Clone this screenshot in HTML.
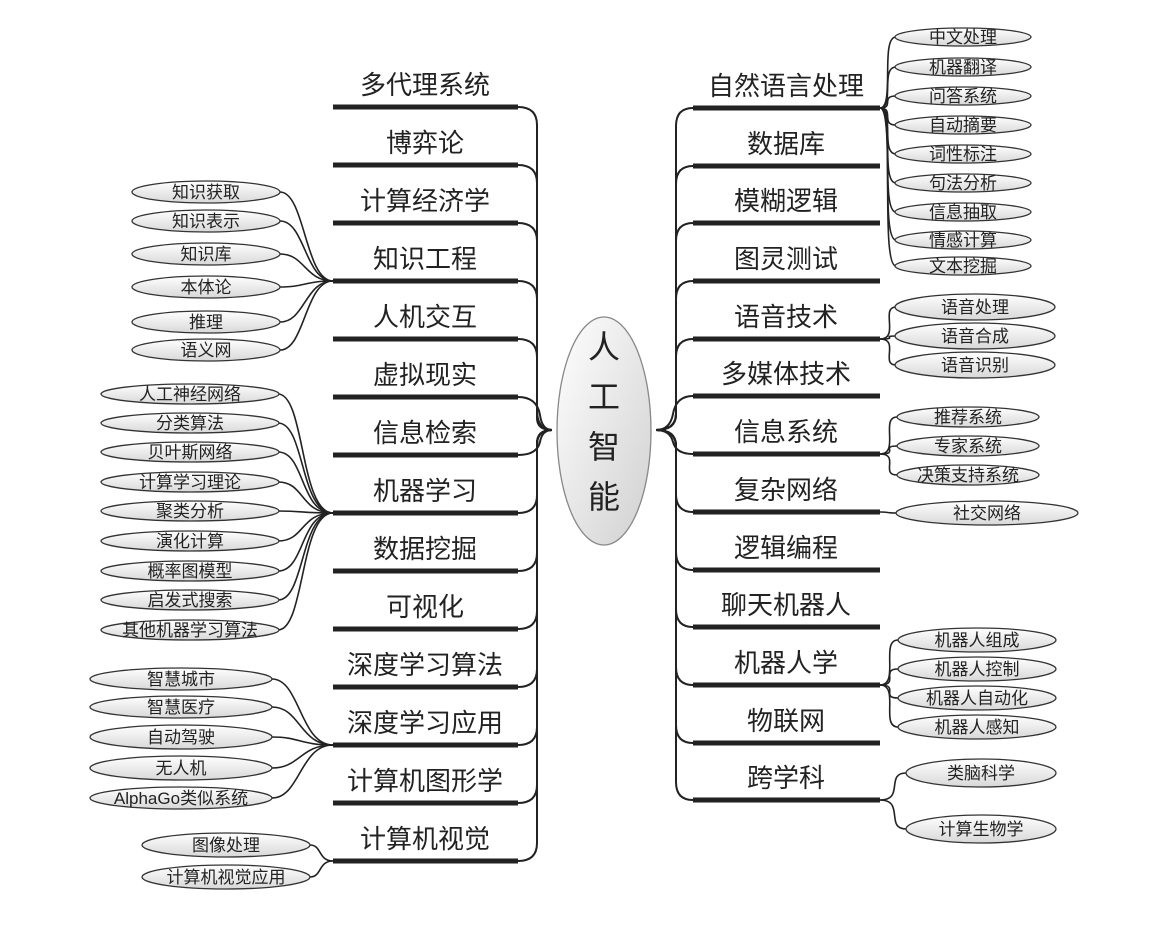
<!DOCTYPE html>
<html><head><meta charset="utf-8"><style>
html,body{margin:0;padding:0;background:#fff;}
svg{display:block;}
.m{font-family:"Liberation Sans","Noto Sans CJK SC",sans-serif;font-size:26px;fill:#222;text-anchor:middle;}
.s{font-family:"Liberation Sans","Noto Sans CJK SC",sans-serif;font-size:17px;fill:#222;text-anchor:middle;}
.b{stroke:#222;stroke-width:5;}
.c{fill:none;stroke:#222;stroke-width:1.6;}
.o{fill:url(#g);stroke:#333;stroke-width:1.3;}
</style></head><body>
<svg width="1174" height="932" viewBox="0 0 1174 932" xmlns="http://www.w3.org/2000/svg">
<defs><linearGradient id="g" x1="0" y1="0" x2="0" y2="1"><stop offset="0" stop-color="#fff"/><stop offset="1" stop-color="#d8d8d8"/></linearGradient>
<linearGradient id="g2" x1="0" y1="0" x2="1" y2="1"><stop offset="0" stop-color="#fff"/><stop offset="1" stop-color="#d0d0d0"/></linearGradient></defs>

<g class="c" style="stroke-width:2">
<path d="M518,107 Q537,107 537,125 L537,410 Q537,430 552,430"/>
<path d="M518,165 Q537,165 537,183 L537,412 Q537,430 552,430"/>
<path d="M518,223 Q537,223 537,241 L537,414 Q537,430 552,430"/>
<path d="M518,281 Q537,281 537,299 L537,416 Q537,430 552,430"/>
<path d="M518,339 Q537,339 537,357 L537,418 Q537,430 552,430"/>
<path d="M518,397 Q537,397 540,415 Q542,430 552,430"/>
<path d="M518,455 Q537,455 540,442 Q542,430 552,430"/>
<path d="M518,513 Q537,513 537,495 L537,444 Q537,430 552,430"/>
<path d="M518,571 Q537,571 537,553 L537,444 Q537,430 552,430"/>
<path d="M518,629 Q537,629 537,611 L537,444 Q537,430 552,430"/>
<path d="M518,687 Q537,687 537,669 L537,444 Q537,430 552,430"/>
<path d="M518,745 Q537,745 537,727 L537,444 Q537,430 552,430"/>
<path d="M518,803 Q537,803 537,785 L537,444 Q537,430 552,430"/>
<path d="M518,861 Q537,861 537,843 L537,444 Q537,430 552,430"/>
</g>
<g class="c" style="stroke-width:2">
<path d="M693,108 Q676,108 676,126 L676,414 Q676,430 656,430"/>
<path d="M693,166 Q676,166 676,184 L676,414 Q676,430 656,430"/>
<path d="M693,223 Q676,223 676,241 L676,414 Q676,430 656,430"/>
<path d="M693,281 Q676,281 676,299 L676,414 Q676,430 656,430"/>
<path d="M693,339 Q676,339 676,357 L676,414 Q676,430 656,430"/>
<path d="M693,396 Q676,396 673,414 Q670,430 656,430"/>
<path d="M693,454 Q676,454 673,442 Q670,430 656,430"/>
<path d="M693,512 Q676,512 676,494 L676,446 Q676,430 656,430"/>
<path d="M693,570 Q676,570 676,552 L676,446 Q676,430 656,430"/>
<path d="M693,627 Q676,627 676,609 L676,446 Q676,430 656,430"/>
<path d="M693,685 Q676,685 676,667 L676,446 Q676,430 656,430"/>
<path d="M693,743 Q676,743 676,725 L676,446 Q676,430 656,430"/>
<path d="M693,800 Q676,800 676,782 L676,446 Q676,430 656,430"/>
</g>

<ellipse cx="604" cy="431" rx="47" ry="114" fill="url(#g2)" stroke="#888" stroke-width="1.3"/>
<g class="m" style="font-size:32px">
<text x="604" y="358">人</text><text x="604" y="408">工</text><text x="604" y="458">智</text><text x="604" y="508">能</text>
</g>

<g class="b">
<line x1="333" y1="107" x2="518" y2="107"/><line x1="333" y1="165" x2="518" y2="165"/>
<line x1="333" y1="223" x2="518" y2="223"/><line x1="333" y1="281" x2="518" y2="281"/>
<line x1="333" y1="339" x2="518" y2="339"/><line x1="333" y1="397" x2="518" y2="397"/>
<line x1="333" y1="455" x2="518" y2="455"/><line x1="333" y1="513" x2="518" y2="513"/>
<line x1="333" y1="571" x2="518" y2="571"/><line x1="333" y1="629" x2="518" y2="629"/>
<line x1="333" y1="687" x2="518" y2="687"/><line x1="333" y1="745" x2="518" y2="745"/>
<line x1="333" y1="803" x2="518" y2="803"/><line x1="333" y1="861" x2="518" y2="861"/>
</g>
<g class="m">
<text x="425" y="94">多代理系统</text><text x="425" y="152">博弈论</text>
<text x="425" y="210">计算经济学</text><text x="425" y="268">知识工程</text>
<text x="425" y="326">人机交互</text><text x="425" y="384">虚拟现实</text>
<text x="425" y="442">信息检索</text><text x="425" y="500">机器学习</text>
<text x="425" y="558">数据挖掘</text><text x="425" y="616">可视化</text>
<text x="425" y="674">深度学习算法</text><text x="425" y="732">深度学习应用</text>
<text x="425" y="790">计算机图形学</text><text x="425" y="848">计算机视觉</text>
</g>

<g class="b">
<line x1="693" y1="108" x2="880" y2="108"/><line x1="693" y1="166" x2="880" y2="166"/>
<line x1="693" y1="223" x2="880" y2="223"/><line x1="693" y1="281" x2="880" y2="281"/>
<line x1="693" y1="339" x2="880" y2="339"/><line x1="693" y1="396" x2="880" y2="396"/>
<line x1="693" y1="454" x2="880" y2="454"/><line x1="693" y1="512" x2="880" y2="512"/>
<line x1="693" y1="570" x2="880" y2="570"/><line x1="693" y1="627" x2="880" y2="627"/>
<line x1="693" y1="685" x2="880" y2="685"/><line x1="693" y1="743" x2="880" y2="743"/>
<line x1="693" y1="800" x2="880" y2="800"/>
</g>
<g class="m">
<text x="786" y="95">自然语言处理</text><text x="786" y="153">数据库</text>
<text x="786" y="210">模糊逻辑</text><text x="786" y="268">图灵测试</text>
<text x="786" y="326">语音技术</text><text x="786" y="383">多媒体技术</text>
<text x="786" y="441">信息系统</text><text x="786" y="499">复杂网络</text>
<text x="786" y="557">逻辑编程</text><text x="786" y="614">聊天机器人</text>
<text x="786" y="672">机器人学</text><text x="786" y="730">物联网</text>
<text x="786" y="787">跨学科</text>
</g>

<g class="c">
<path d="M333,281 C305,281 305,192 280,192"/><path d="M333,281 C305,281 305,221 280,221"/>
<path d="M333,281 C305,281 305,254 280,254"/><path d="M333,281 C305,281 305,287 280,287"/>
<path d="M333,281 C305,281 305,322 280,322"/><path d="M333,281 C305,281 305,350 280,350"/>
<path d="M333,513 C300,513 305,394 278,394"/><path d="M333,513 C300,513 305,423 278,423"/>
<path d="M333,513 C300,513 305,452 278,452"/><path d="M333,513 C300,513 305,482 278,482"/>
<path d="M333,513 C300,513 305,511 278,511"/><path d="M333,513 C300,513 305,541 278,541"/>
<path d="M333,513 C300,513 305,571 278,571"/><path d="M333,513 C300,513 305,600 278,600"/>
<path d="M333,513 C300,513 305,630 278,630"/>
<path d="M333,745 C300,745 300,679 272,679"/><path d="M333,745 C300,745 300,707 272,707"/>
<path d="M333,745 C300,745 300,737 272,737"/><path d="M333,745 C300,745 300,768 272,768"/>
<path d="M333,745 C300,745 300,798 272,798"/>
<path d="M333,861 C318,861 322,845 310,845"/><path d="M333,861 C318,861 322,877 310,877"/>
</g>
<g class="c">
<path d="M880,108 C895,108 880,37 896,37"/><path d="M880,108 C895,108 880,67 896,67"/>
<path d="M880,108 C895,108 880,96 896,96"/><path d="M880,108 C895,108 880,125 896,125"/>
<path d="M880,108 C895,108 880,154 896,154"/><path d="M880,108 C895,108 880,183 896,183"/>
<path d="M880,108 C895,108 880,212 896,212"/><path d="M880,108 C895,108 880,240 896,240"/>
<path d="M880,108 C895,108 880,266 896,266"/>
<path d="M880,339 C900,339 880,307 896,307"/><path d="M880,339 C900,339 880,336 896,336"/>
<path d="M880,339 C900,339 880,365 896,365"/>
<path d="M880,454 C900,454 880,417 897,417"/><path d="M880,454 C900,454 880,446 897,446"/>
<path d="M880,454 C900,454 880,475 897,475"/>
<path d="M880,512 C890,512 885,513 896,513"/>
<path d="M880,685 C900,685 880,640 898,640"/><path d="M880,685 C900,685 880,669 898,669"/>
<path d="M880,685 C900,685 880,698 898,698"/><path d="M880,685 C900,685 880,727 898,727"/>
<path d="M880,800 C905,800 885,773 906,773"/><path d="M880,800 C905,800 885,829 906,829"/>
</g>

<g class="o">
<ellipse cx="206" cy="192" rx="74" ry="11"/><ellipse cx="206" cy="221" rx="74" ry="11"/>
<ellipse cx="206" cy="254" rx="74" ry="11"/><ellipse cx="206" cy="287" rx="74" ry="11"/>
<ellipse cx="206" cy="322" rx="74" ry="11"/><ellipse cx="206" cy="350" rx="74" ry="11"/>
<ellipse cx="190" cy="394" rx="89" ry="10"/><ellipse cx="190" cy="423" rx="89" ry="10"/>
<ellipse cx="190" cy="452" rx="89" ry="10"/><ellipse cx="190" cy="482" rx="89" ry="10"/>
<ellipse cx="190" cy="511" rx="89" ry="10"/><ellipse cx="190" cy="541" rx="89" ry="10"/>
<ellipse cx="190" cy="571" rx="89" ry="10"/><ellipse cx="190" cy="600" rx="89" ry="10"/>
<ellipse cx="190" cy="630" rx="89" ry="10"/>
<ellipse cx="181" cy="679" rx="91" ry="11"/><ellipse cx="181" cy="707" rx="91" ry="11"/>
<ellipse cx="181" cy="737" rx="91" ry="12"/><ellipse cx="181" cy="768" rx="91" ry="12"/>
<ellipse cx="181" cy="798" rx="91" ry="11"/>
<ellipse cx="226" cy="845" rx="84" ry="12"/><ellipse cx="226" cy="877" rx="84" ry="12"/>
</g>
<g class="s">
<text x="206" y="198">知识获取</text><text x="206" y="227">知识表示</text>
<text x="206" y="260">知识库</text><text x="206" y="293">本体论</text>
<text x="206" y="328">推理</text><text x="206" y="356">语义网</text>
<text x="190" y="400">人工神经网络</text><text x="190" y="429">分类算法</text>
<text x="190" y="458">贝叶斯网络</text><text x="190" y="488">计算学习理论</text>
<text x="190" y="517">聚类分析</text><text x="190" y="547">演化计算</text>
<text x="190" y="577">概率图模型</text><text x="190" y="606">启发式搜索</text>
<text x="190" y="636">其他机器学习算法</text>
<text x="181" y="685">智慧城市</text><text x="181" y="713">智慧医疗</text>
<text x="181" y="743">自动驾驶</text><text x="181" y="774">无人机</text>
<text x="181" y="804">AlphaGo类似系统</text>
<text x="226" y="851">图像处理</text><text x="226" y="883">计算机视觉应用</text>
</g>

<g class="o">
<ellipse cx="963" cy="37" rx="68" ry="9"/><ellipse cx="963" cy="67" rx="68" ry="9"/>
<ellipse cx="963" cy="96" rx="68" ry="9"/><ellipse cx="963" cy="125" rx="68" ry="9"/>
<ellipse cx="963" cy="154" rx="68" ry="9"/><ellipse cx="963" cy="183" rx="68" ry="9"/>
<ellipse cx="963" cy="212" rx="68" ry="9"/><ellipse cx="963" cy="240" rx="68" ry="9"/>
<ellipse cx="963" cy="266" rx="68" ry="9"/>
<ellipse cx="975" cy="307" rx="80" ry="13"/><ellipse cx="975" cy="336" rx="80" ry="13"/>
<ellipse cx="975" cy="365" rx="80" ry="13"/>
<ellipse cx="968" cy="417" rx="71" ry="10"/><ellipse cx="968" cy="446" rx="71" ry="10"/>
<ellipse cx="968" cy="475" rx="71" ry="10"/>
<ellipse cx="987" cy="513" rx="91" ry="12"/>
<ellipse cx="977" cy="640" rx="79" ry="12"/><ellipse cx="977" cy="669" rx="79" ry="12"/>
<ellipse cx="977" cy="698" rx="79" ry="12"/><ellipse cx="977" cy="727" rx="79" ry="12"/>
<ellipse cx="981" cy="773" rx="75" ry="14"/><ellipse cx="981" cy="829" rx="75" ry="14"/>
</g>
<g class="s">
<text x="963" y="43">中文处理</text><text x="963" y="73">机器翻译</text>
<text x="963" y="102">问答系统</text><text x="963" y="131">自动摘要</text>
<text x="963" y="160">词性标注</text><text x="963" y="189">句法分析</text>
<text x="963" y="218">信息抽取</text><text x="963" y="246">情感计算</text>
<text x="963" y="272">文本挖掘</text>
<text x="975" y="313">语音处理</text><text x="975" y="342">语音合成</text>
<text x="975" y="371">语音识别</text>
<text x="968" y="423">推荐系统</text><text x="968" y="452">专家系统</text>
<text x="968" y="481">决策支持系统</text>
<text x="987" y="519">社交网络</text>
<text x="977" y="646">机器人组成</text><text x="977" y="675">机器人控制</text>
<text x="977" y="704">机器人自动化</text><text x="977" y="733">机器人感知</text>
<text x="981" y="779">类脑科学</text><text x="981" y="835">计算生物学</text>
</g>
</svg>
</body></html>
